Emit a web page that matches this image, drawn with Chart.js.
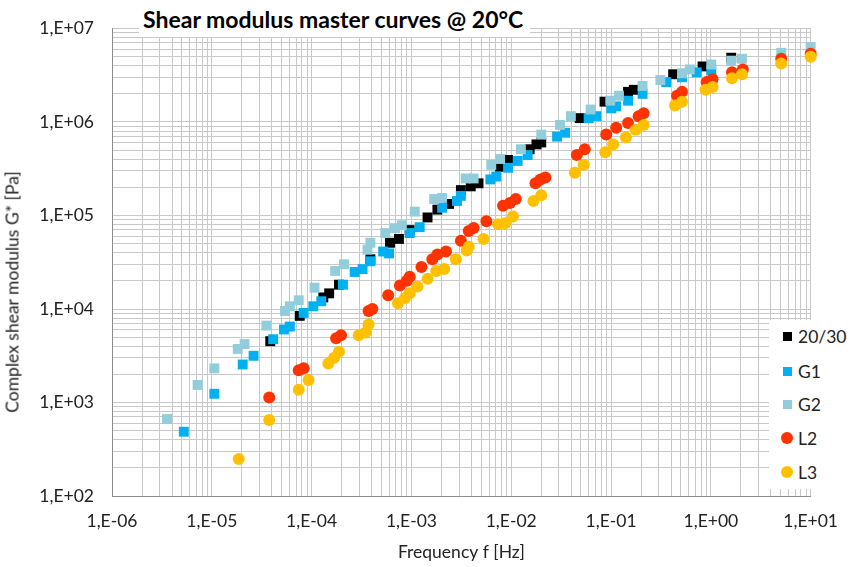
<!DOCTYPE html>
<html><head><meta charset="utf-8">
<script src="https://cdn.jsdelivr.net/npm/chart.js@4.4.1/dist/chart.umd.min.js"></script>
<style>
html,body{margin:0;padding:0;background:#fff;}
#wrap{position:relative;width:853px;height:567px;font-family:Lato,'DejaVu Sans',sans-serif;overflow:hidden;}
#c{position:absolute;left:0;top:0;}
#title{position:absolute;left:139px;top:0;width:391px;height:37px;background:#fff;font-weight:bold;font-size:23px;line-height:38px;padding-left:4px;box-sizing:border-box;color:#000;white-space:nowrap;}
#ytitle{position:absolute;left:12px;top:292px;transform:translate(-50%,-50%) rotate(-90deg);font-size:17.5px;line-height:21px;white-space:nowrap;color:#222;}
#legend{position:absolute;left:769px;top:320px;width:84px;height:169px;background:#fff;}
.li{position:absolute;left:0;width:84px;height:22px;display:flex;align-items:center;font-size:17.5px;color:#222;}
.mk{position:absolute;}
.tx{position:absolute;left:29px;white-space:nowrap;}
</style></head>
<body>
<div id="wrap">
<canvas id="c" width="853" height="567"></canvas>
<div id="title"></div>
<div id="ytitle"></div>
<div id="legend"></div>
</div>
<script>
const chartTitle = 'Shear modulus master curves @ 20°C';
const xAxisTitle = 'Frequency f [Hz]';
const yAxisTitle = 'Complex shear modulus G* [Pa]';

const xTickLabels = ['1,E-06','1,E-05','1,E-04','1,E-03','1,E-02','1,E-01','1,E+00','1,E+01'];
const xTickExp0 = -6;
const yTickLabels = ['1,E+02','1,E+03','1,E+04','1,E+05','1,E+06','1,E+07'];
const yTickExp0 = 2;

const seriesNames = ['20/30','G1','G2','L2','L3'];
const seriesColors = ['#000000','#00B0F0','#92CDDC','#FF3300','#FFC000'];
const seriesShapes = ['rect','rect','rect','circle','circle'];

const x2030 = [3.85e-5,7.6e-5,1.31e-4,1.5e-4,1.88e-4,3.88e-4,6.1e-4,7.5e-4,9.6e-4,1.45e-3,1.82e-3,2.38e-3,3.13e-3,3.93e-3,4.7e-3,7.74e-3,9.3e-3,1.53e-2,1.79e-2,2.0e-2,4.85e-2,8.6e-2,0.148,0.169,0.419,0.826,1.6];
const y2030 = [4530,8450,13300,14700,18200,34000,51100,56200,69800,95300,115500,133000,187000,205000,221000,332000,393000,511000,576000,604000,1.10e6,1.65e6,2.10e6,2.21e6,3.24e6,3.93e6,4.87e6];

const xG1 = [5.24e-6,1.06e-5,2.04e-5,2.62e-5,4.12e-5,5.28e-5,6.05e-5,8.32e-5,1.04e-4,1.25e-4,2.06e-4,2.70e-4,3.24e-4,3.88e-4,5.21e-4,5.97e-4,9.62e-4,1.21e-3,2.03e-3,2.86e-3,3.13e-3,6.18e-3,7.08e-3,9.29e-3,1.16e-2,1.46e-2,2.88e-2,3.46e-2,5.96e-2,7.14e-2,0.1005,0.1125,0.148,0.207,0.357,0.514,0.721,1.01];
const yG1 = [487,1240,2550,3160,4750,6040,6490,9080,10700,12100,18200,24900,26700,32400,41200,39300,64900,75000,121000,143000,162000,243000,261000,324000,383000,443000,698000,768000,1.10e6,1.155e6,1.40e6,1.47e6,1.69e6,2.00e6,2.67e6,3.01e6,3.40e6,3.56e6];

const xG2 = [3.56e-6,7.2e-6,1.06e-5,1.82e-5,2.13e-5,3.52e-5,5.41e-5,6.05e-5,7.43e-5,1.07e-4,1.72e-4,2.11e-4,3.63e-4,3.88e-4,5.46e-4,6.84e-4,8.02e-4,1.08e-3,1.69e-3,2.03e-3,3.5e-3,4.2e-3,6.31e-3,7.74e-3,1.25e-2,2.0e-2,3.08e-2,3.96e-2,6.24e-2,9.82e-2,0.12,0.207,0.312,0.514,0.615,1.01,1.6,2.05,5.07,10];
const yG2 = [666,1540,2320,3740,4220,6650,9530,10700,12400,16900,25500,30100,43200,51100,64900,73300,78700,110000,150000,154000,249000,249000,348000,402000,511000,733000,931000,1.155e6,1.36e6,1.69e6,1.91e6,2.43e6,2.81e6,3.32e6,3.65e6,4.12e6,4.53e6,4.75e6,5.50e6,6.34e6];

const xL2 = [3.76e-5,7.43e-5,8.32e-5,1.76e-4,1.97e-4,3.72e-4,4.06e-4,5.85e-4,7.67e-4,9.0e-4,9.62e-4,1.26e-3,1.62e-3,1.82e-3,2.22e-3,3.13e-3,3.75e-3,4.2e-3,5.64e-3,8.28e-3,9.7e-3,1.11e-2,1.75e-2,1.96e-2,2.2e-2,4.54e-2,5.45e-2,8.95e-2,0.1125,0.148,0.189,0.212,0.458,0.514,0.906,1.04,1.63,2.09,5.07,10];
const yL2 = [1130,2210,2320,4870,5230,9530,10000,14000,17800,20000,22100,28100,34000,38300,41200,53600,68100,73300,86600,127000,136000,150000,221000,243000,255000,443000,511000,733000,866000,977000,1.155e6,1.24e6,1.91e6,2.10e6,2.67e6,2.87e6,3.40e6,3.65e6,4.75e6,5.36e6];

const xL3 = [1.86e-5,3.76e-5,7.43e-5,9.31e-5,1.47e-4,1.68e-4,1.88e-4,2.96e-4,3.47e-4,3.72e-4,7.33e-4,8.59e-4,9.62e-4,1.15e-3,1.45e-3,1.77e-3,2.13e-3,2.79e-3,3.58e-3,3.75e-3,5.27e-3,7.4e-3,8.67e-3,1.04e-2,1.67e-2,2.0e-2,4.34e-2,5.32e-2,8.75e-2,0.105,0.141,0.177,0.212,0.438,0.514,0.885,1.04,1.63,2.05,5.07,10];
const yL3 = [249,649,1365,1740,2610,3010,3480,5230,5620,6810,11550,13000,14700,17400,21000,25500,26700,34000,42200,46400,56200,80600,82500,97700,143000,165000,287000,348000,475000,576000,681000,825000,931000,1.50e6,1.65e6,2.21e6,2.37e6,2.94e6,3.24e6,4.22e6,4.99e6];

const seriesX = [x2030,xG1,xG2,xL2,xL3];
const seriesY = [y2030,yG1,yG2,yL2,yL3];

function logGrid(e0, e1){ // values m*10^e for gridlines
  const v = [];
  for (let e = e0; e < e1; e++) for (let m = 1; m <= 9; m++) v.push(Number(m + 'e' + e));
  v.push(Number('1e' + e1));
  return v;
}
function decadeLabel(labels, e0){
  return function(value){
    const e = Math.round(Math.log10(value));
    const p = Number('1e' + e);
    if (Math.abs(value - p) <= p * 1e-6) { const s = labels[e - e0]; return s === undefined ? '' : s; }
    return '';
  };
}

document.getElementById('title').textContent = chartTitle;
document.getElementById('ytitle').textContent = yAxisTitle;

const legendCentersY = [16,51,84,118,152];
const leg = document.getElementById('legend');
seriesNames.forEach((n,i)=>{
  const d = document.createElement('div');
  d.className = 'li';
  d.style.top = (legendCentersY[i]-11) + 'px';
  const mk = document.createElement('span');
  mk.className = 'mk';
  const sz = seriesShapes[i] === 'rect' ? 9 : 12;
  mk.style.width = sz + 'px'; mk.style.height = sz + 'px';
  mk.style.left = (18 - sz/2) + 'px'; mk.style.top = (11 - sz/2) + 'px';
  mk.style.background = seriesColors[i];
  if (seriesShapes[i] === 'circle') mk.style.borderRadius = '50%';
  const tx = document.createElement('span');
  tx.className = 'tx';
  tx.textContent = n;
  d.appendChild(mk); d.appendChild(tx);
  leg.appendChild(d);
});

Chart.defaults.font.family = "Lato, 'DejaVu Sans', sans-serif";
Chart.defaults.color = '#222';

const datasets = seriesNames.map((n,i)=>({
  label: n,
  data: seriesX[i].map((x,j)=>({x:x, y:seriesY[i][j]})),
  pointStyle: seriesShapes[i],
  pointRadius: seriesShapes[i] === 'rect' ? 7 : 6,
  pointHoverRadius: seriesShapes[i] === 'rect' ? 7 : 6,
  backgroundColor: seriesColors[i],
  borderColor: seriesColors[i],
  borderWidth: 0,
  showLine: false,
  clip: false,
  order: seriesNames.length - i
}));

const gridOpts = {color:'#c8c8c8', lineWidth:1, drawTicks:false};
const borderOpts = {color:'#8c8c8c', width:1};

new Chart(document.getElementById('c'), {
  type: 'scatter',
  data: {datasets},
  options: {
    responsive: false,
    devicePixelRatio: 1,
    animation: false,
    events: [],
    layout: {padding: {left:0, right:30, top:18, bottom:0}},
    plugins: {legend:{display:false}, title:{display:false}, tooltip:{enabled:false}},
    scales: {
      x: {
        type: 'logarithmic', min: 1e-6, max: 10,
        afterBuildTicks: s => { s.ticks = logGrid(-6, 1).map(v=>({value:v})); },
        afterFit: s => { s.height = 71; },
        ticks: {autoSkip:false, maxRotation:0, minRotation:0, padding:15, font:{size:17.5}, color:'#222', callback: decadeLabel(xTickLabels, xTickExp0)},
        grid: gridOpts, border: borderOpts,
        title: {display:true, text:xAxisTitle, font:{size:17.5}, color:'#222', padding:{top:0, bottom:4}}
      },
      y: {
        type: 'logarithmic', min: 1e2, max: 1e7,
        afterBuildTicks: s => { s.ticks = logGrid(2, 7).map(v=>({value:v})); },
        afterFit: s => { s.width = 112; },
        ticks: {autoSkip:false, padding:18, font:{size:17.5}, color:'#222', callback: decadeLabel(yTickLabels, yTickExp0)},
        grid: gridOpts, border: borderOpts,
        title: {display:false}
      }
    }
  }
});
</script>
</body></html>
